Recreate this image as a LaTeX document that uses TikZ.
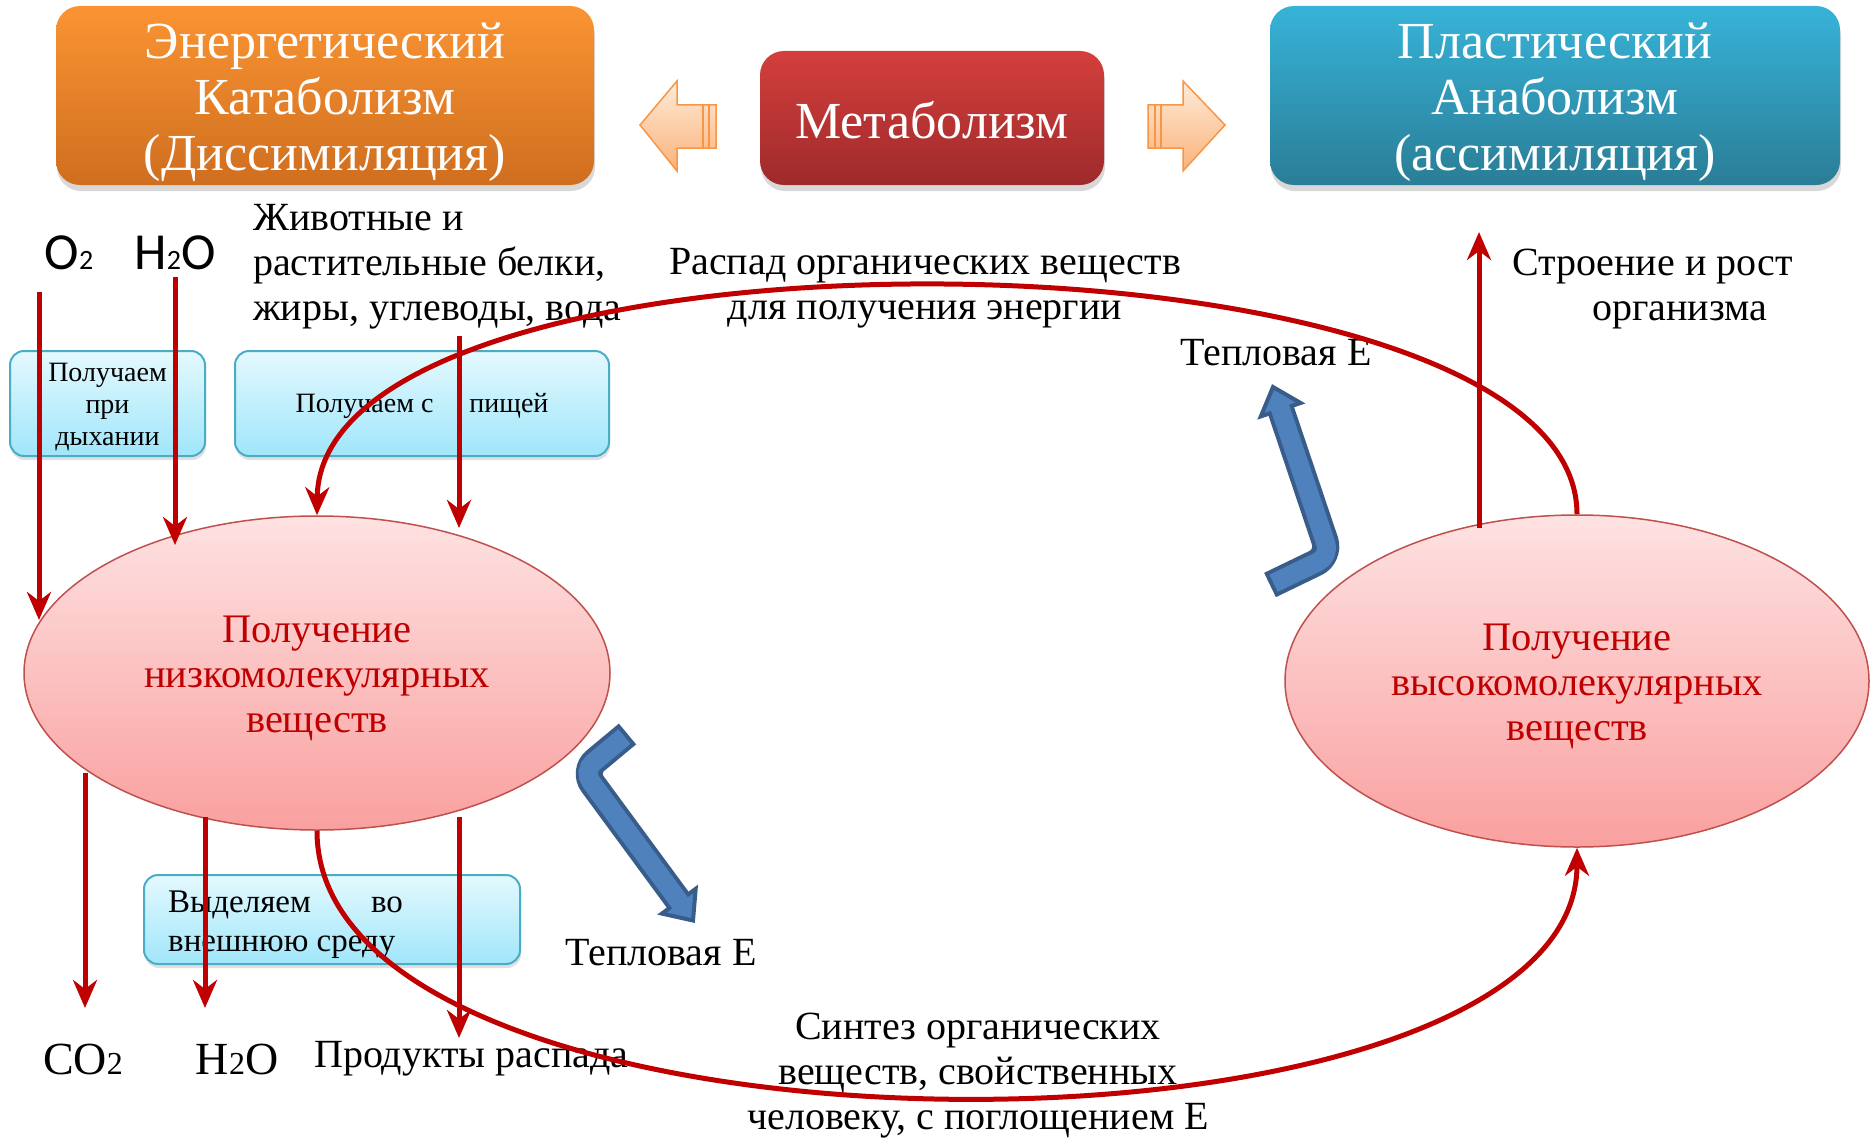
\documentclass[tikz,border=0pt]{standalone}
\usepackage{fontspec}
\setmainfont{Liberation Serif}
\newfontfamily\sansO{Carlito}
\usetikzlibrary{shapes.geometric,arrows.meta,shadows}
\definecolor{orgT}{HTML}{FA9433}
\definecolor{orgB}{HTML}{CF6E1F}
\definecolor{redT}{HTML}{D43F3C}
\definecolor{redB}{HTML}{9E2A2B}
\definecolor{bluT}{HTML}{37B3D8}
\definecolor{bluB}{HTML}{2A7D96}
\definecolor{cyT}{HTML}{E4F9FE}
\definecolor{cyB}{HTML}{A0E6FA}
\definecolor{cyD}{HTML}{4BACC6}
\definecolor{elT}{HTML}{FEE2E2}
\definecolor{elB}{HTML}{F9A09F}
\definecolor{elD}{HTML}{C0504D}
\definecolor{elTxt}{HTML}{C00000}
\definecolor{redA}{HTML}{C00000}
\definecolor{baF}{HTML}{4F81BD}
\definecolor{baD}{HTML}{385D8A}
\definecolor{hoT}{HTML}{FEEBD8}
\definecolor{hoB}{HTML}{FBB27A}
\definecolor{hoD}{HTML}{F79646}
\begin{document}
\begin{tikzpicture}[x=1pt,y=-1pt,
  hdr/.style={rounded corners=24pt, inner sep=0pt,
    drop shadow={shadow xshift=1pt, shadow yshift=-6pt, opacity=0.3}},
  hdrtxt/.style={text=white, align=center, inner sep=0pt, font=\fontsize{52}{56}\selectfont},
  cyanbox/.style={rounded corners=14pt, draw=cyD, line width=2pt, top color=cyT, bottom color=cyB,
    drop shadow={shadow xshift=1pt, shadow yshift=-4pt, opacity=0.25}},
  ell/.style={ellipse, draw=elD, line width=1.5pt, top color=elT, bottom color=elB, inner sep=0pt},
  elltxt/.style={text=elTxt, align=center, inner sep=0pt, font=\fontsize{40.5}{45}\selectfont},
  redarr/.style={draw=redA, line width=5pt, -{Stealth[length=28pt,width=24pt,inset=9pt]}},
  lbl/.style={inner sep=0pt, font=\fontsize{40}{45}\selectfont},
  hollow/.style={draw=hoD, line width=1.5pt, top color=hoT, bottom color=hoB, line join=miter},
  shaftout/.style={draw=baD, line width=27pt, rounded corners=16pt},
  shaftin/.style={draw=baF, line width=19pt, rounded corners=13pt, shorten <=4pt},
  headb/.style={fill=baF, draw=baD, line width=4pt, line join=miter},
]
\useasboundingbox (0,0) rectangle (1870,1137);
\fill[white] (0,0) rectangle (1870,1137);

% header boxes
\node[hdr, top color=orgT, bottom color=orgB, minimum width=538pt, minimum height=179pt] (kat) at (325,95.5) {};
\node[hdrtxt] (katt) at (325,102) {Энергетический\\Катаболизм\\(Диссимиляция)};
\node[hdr, top color=redT, bottom color=redB, minimum width=344pt, minimum height=134pt] (met) at (932,118) {};
\node[hdrtxt] (mett) at (932,120) {Метаболизм};
\node[hdr, top color=bluT, bottom color=bluB, minimum width=570pt, minimum height=179pt] (ana) at (1555,95.5) {};
\node[hdrtxt] (anat) at (1555,102) {Пластический\\Анаболизм\\(ассимиляция)};

% hollow arrows
\path[hollow] (640,125) -- (677,81) -- (677,105) -- (716,105) -- (716,148) -- (677,148) -- (677,171) -- cycle;
\draw[hoD, line width=1.2pt] (703,105) -- (703,148) (709,105) -- (709,148);
\path[hollow] (1225,125) -- (1183,81) -- (1183,105) -- (1148,105) -- (1148,148) -- (1183,148) -- (1183,171) -- cycle;
\draw[hoD, line width=1.2pt] (1155,105) -- (1155,148) (1161,105) -- (1161,148);

% cyan boxes
\node[cyanbox, minimum width=195pt, minimum height=105pt, inner sep=0pt] (resp) at (107.5,403.5) {};
\node[inner sep=0pt, align=center, font=\fontsize{28}{32}\selectfont] (respt) at (107.5,407.5) {Получаем\\при\\дыхании};
\node[cyanbox, minimum width=374pt, minimum height=105pt, inner sep=0pt] (food) at (422,403.5) {};
\node[inner sep=0pt, font=\fontsize{28}{32}\selectfont] (foodt) at (422,406) {Получаем с\hspace{36pt}пищей};
\node[cyanbox, minimum width=376pt, minimum height=89pt, inner sep=0pt] (excr) at (332,919.5) {};
\node[inner sep=0pt, anchor=west, align=left, font=\fontsize{33}{39}\selectfont] (excrt) at (168,925)
  {Выделяем\hspace{60pt}во\\внешнюю среду};

% ellipses
\node[ell, minimum width=586pt, minimum height=314pt] (lell) at (317,673) {};
\node[elltxt] (lellt) at (317,678) {Получение\\низкомолекулярных\\веществ};
\node[ell, minimum width=584pt, minimum height=332pt] (rell) at (1577,681) {};
\node[elltxt] (rellt) at (1577,686) {Получение\\высокомолекулярных\\веществ};

% labels
\node[inner sep=0pt, font=\sansO\fontsize{52}{56}\selectfont] (o2) at (69,253) {O{\fontsize{28}{30}\selectfont 2}};
\node[inner sep=0pt, font=\sansO\fontsize{52}{56}\selectfont] (h2o) at (175,253) {H{\fontsize{28}{30}\selectfont 2}O};
\node[lbl, anchor=west, align=left] (foodtxt) at (253,267) {Животные и\\растительные белки,\\жиры, углеводы, вода};
\node[lbl, align=center] (decay) at (925,288) {Распад органических веществ\\для получения энергии};
\node[lbl] (heat1) at (1276,353) {Тепловая Е};
\node[lbl] (heat2) at (661,953) {Тепловая Е};
\node[lbl, anchor=west] (build1) at (1512,267) {Строение и рост};
\node[lbl, anchor=west] (build2) at (1592,315) {организма};
\node[lbl, align=center] (synth) at (978,1076) {Синтез органических\\веществ, свойственных\\человеку, с поглощением Е};
\node[inner sep=0pt, font=\fontsize{46}{50}\selectfont] (co2) at (83,1059) {CO{\fontsize{32}{34}\selectfont 2}};
\node[inner sep=0pt, font=\fontsize{46}{50}\selectfont] (h2ob) at (237,1059) {H{\fontsize{32}{34}\selectfont 2}O};
\node[lbl, anchor=west] (prod) at (314,1059) {Продукты распада};

% blue bent arrows
\draw[shaftout] (627.5,734) -- (583,771) -- (678.8,901.2);
\path[headb] (693,920.5) -- (695.7,888.8) -- (661.9,913.6) -- cycle;
\draw[shaftin] (627.5,734) -- (583,771) -- (681.2,904.4);

\draw[shaftout] (1270,585) -- (1330,556) -- (1280.7,409.7);
\path[headb] (1273,387) -- (1300.6,403.0) -- (1260.8,416.4) -- cycle;
\draw[shaftin] (1270,585) -- (1330,556) -- (1279.4,405.9);

% coordinates for free ends
\coordinate (o2s) at (39,292);
\coordinate (o2e) at (39,620);
\coordinate (h2s) at (175,277);
\coordinate (h2e) at (175,545);
\coordinate (fds) at (459,336);
\coordinate (fde) at (459,528);
\coordinate (cos) at (85,773);
\coordinate (coe) at (85,1008);
\coordinate (hbs) at (205,817);
\coordinate (hbe) at (205,1008);
\coordinate (prs) at (459,817);
\coordinate (pre) at (459,1038);
\coordinate (ups) at (1479,528);
\coordinate (upe) at (1479,232);

% red arrows
\draw[redarr] (o2s) -- (o2e);
\draw[redarr] (h2s) -- (h2e);
\draw[redarr] (fds) -- (fde);
\draw[redarr] (cos) -- (coe);
\draw[redarr] (hbs) -- (hbe);
\draw[redarr] (prs) -- (pre);
\draw[redarr] (ups) -- (upe);
\draw[redarr] (rell.north) .. controls (1577,215) and (320,205) .. (lell.north);
\draw[redarr] (lell.south) .. controls (317,1183) and (1577,1183) .. (rell.south);
\end{tikzpicture}
\end{document}
